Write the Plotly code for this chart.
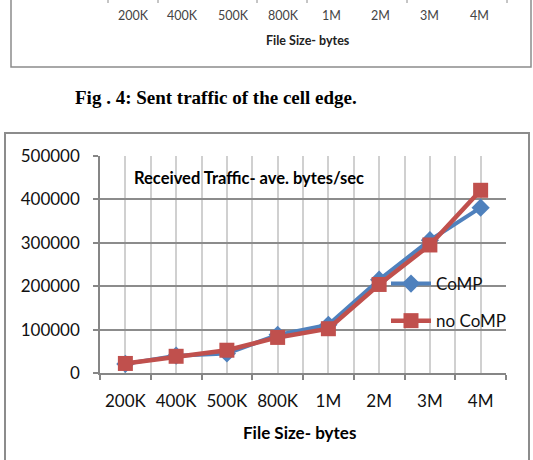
import plotly.graph_objects as go

categories = ["200K", "400K", "500K", "800K", "1M", "2M", "3M", "4M"]
comp = [21000, 40000, 45000, 88000, 111000, 215000, 306000, 381000]
no_comp = [22000, 38500, 52500, 82000, 102000, 204000, 295000, 421000]
y_ticks = [0, 100000, 200000, 300000, 400000, 500000]

prev_ticks = ["200K", "400K", "500K", "800K", "1M", "2M", "3M", "4M"]
prev_tick_px = [133, 182, 233, 283, 331, 380, 429, 479]

W, H = 533, 460
ML, MR, MT, MB = 100, 27, 156, 87
PW, PH = W - ML - MR, H - MT - MB


def px(x):
    return (x - ML) / PW


def py(y):
    return (H - MB - y) / PH


xs = list(range(len(categories)))
BLUE = "#4F81BD"
RED = "#C0504D"
FONT = "Lato"

fig = go.Figure()
fig.add_trace(go.Scatter(
    x=xs, y=comp, name="CoMP", mode="lines+markers", legendgroup="a",
    line=dict(color=BLUE, width=4),
    marker=dict(symbol="diamond", size=14, color=BLUE),
))
fig.add_trace(go.Scatter(
    x=xs, y=no_comp, name="no CoMP", mode="lines+markers", legendgroup="b",
    line=dict(color=RED, width=4.5),
    marker=dict(symbol="square", size=15, color=RED),
))

bounds = [i - 0.5 for i in range(len(categories) + 1)]

fig.update_xaxes(
    range=[-0.5, len(categories) - 0.5],
    tickvals=xs, ticktext=categories,
    showgrid=True, gridcolor="#D0D0D0", gridwidth=1.5,
    ticks="", showline=True, linecolor="#868686", linewidth=1.5,
    tickfont=dict(family=FONT, size=17, color="#111"),
    ticklabelstandoff=12,
    minor=dict(tickvals=bounds, showgrid=True, gridcolor="#D0D0D0", gridwidth=1.5,
               ticks="outside", ticklen=5, tickcolor="#868686", tickwidth=1.5),
    zeroline=False, fixedrange=True,
)
fig.update_yaxes(
    range=[0, 500000], tickvals=y_ticks, tickformat="d",
    showgrid=True, gridcolor="#8C8C8C", gridwidth=1.5,
    ticks="outside", ticklen=5, tickcolor="#868686", tickwidth=1.5,
    showline=True, linecolor="#868686", linewidth=1.5,
    tickfont=dict(family=FONT, size=17, color="#111"),
    ticklabelstandoff=10, zeroline=False,
)

shapes = []
# outer chart frame
shapes.append(dict(type="rect", xref="paper", yref="paper",
                   x0=px(5), x1=px(529), y0=py(470), y1=py(133),
                   line=dict(color="#8C8C8C", width=2), fillcolor="rgba(0,0,0,0)", layer="below"))
# previous figure frame (bottom part)
shapes.append(dict(type="path", xref="paper", yref="paper",
                   path=f"M {px(11)} {py(-5)} L {px(11)} {py(67)} L {px(531)} {py(67)} L {px(531)} {py(-5)}",
                   line=dict(color="#8C8C8C", width=1.5)))
for tx in [108, 158, 257, 307, 407, 507]:
    shapes.append(dict(type="line", xref="paper", yref="paper",
                       x0=px(tx), x1=px(tx), y0=py(0), y1=py(3),
                       line=dict(color="#8C8C8C", width=1)))

annotations = []
for lbl, tx in zip(prev_ticks, prev_tick_px):
    annotations.append(dict(xref="paper", yref="paper", x=px(tx), y=py(15),
                            text=lbl, showarrow=False, xanchor="center", yanchor="middle",
                            font=dict(family=FONT, size=12.5, color="#444")))
annotations.append(dict(xref="paper", yref="paper", x=px(308), y=py(41),
                        text="<b>File Size- bytes</b>", showarrow=False,
                        xanchor="center", yanchor="middle",
                        font=dict(family=FONT, size=12.5, color="#222")))
annotations.append(dict(xref="paper", yref="paper", x=px(73), y=py(97),
                        text="<b>Fig . 4: Sent traffic of the cell edge.</b>", showarrow=False,
                        xanchor="left", yanchor="middle",
                        font=dict(family="Liberation Serif", size=19, color="#000")))
annotations.append(dict(xref="paper", yref="paper", x=px(132), y=py(178),
                        text="<b>Received Traffic- ave. bytes/sec</b>", showarrow=False,
                        xanchor="left", yanchor="middle",
                        font=dict(family=FONT, size=16.5, color="#000")))
annotations.append(dict(xref="paper", yref="paper", x=px(299), y=py(432),
                        text="<b>File Size- bytes</b>", showarrow=False,
                        xanchor="center", yanchor="middle",
                        font=dict(family=FONT, size=17, color="#000")))

fig.update_layout(
    width=W, height=H,
    margin=dict(l=ML, r=MR, t=MT, b=MB, pad=0),
    paper_bgcolor="white", plot_bgcolor="white",
    showlegend=True,
    legend=dict(x=px(386), y=py(266), xanchor="left", yanchor="top",
                bgcolor="rgba(0,0,0,0)", font=dict(family=FONT, size=17, color="#111"),
                tracegroupgap=12, traceorder="grouped", itemwidth=40),
    shapes=shapes, annotations=annotations,
)

fig.write_html("out.html")
